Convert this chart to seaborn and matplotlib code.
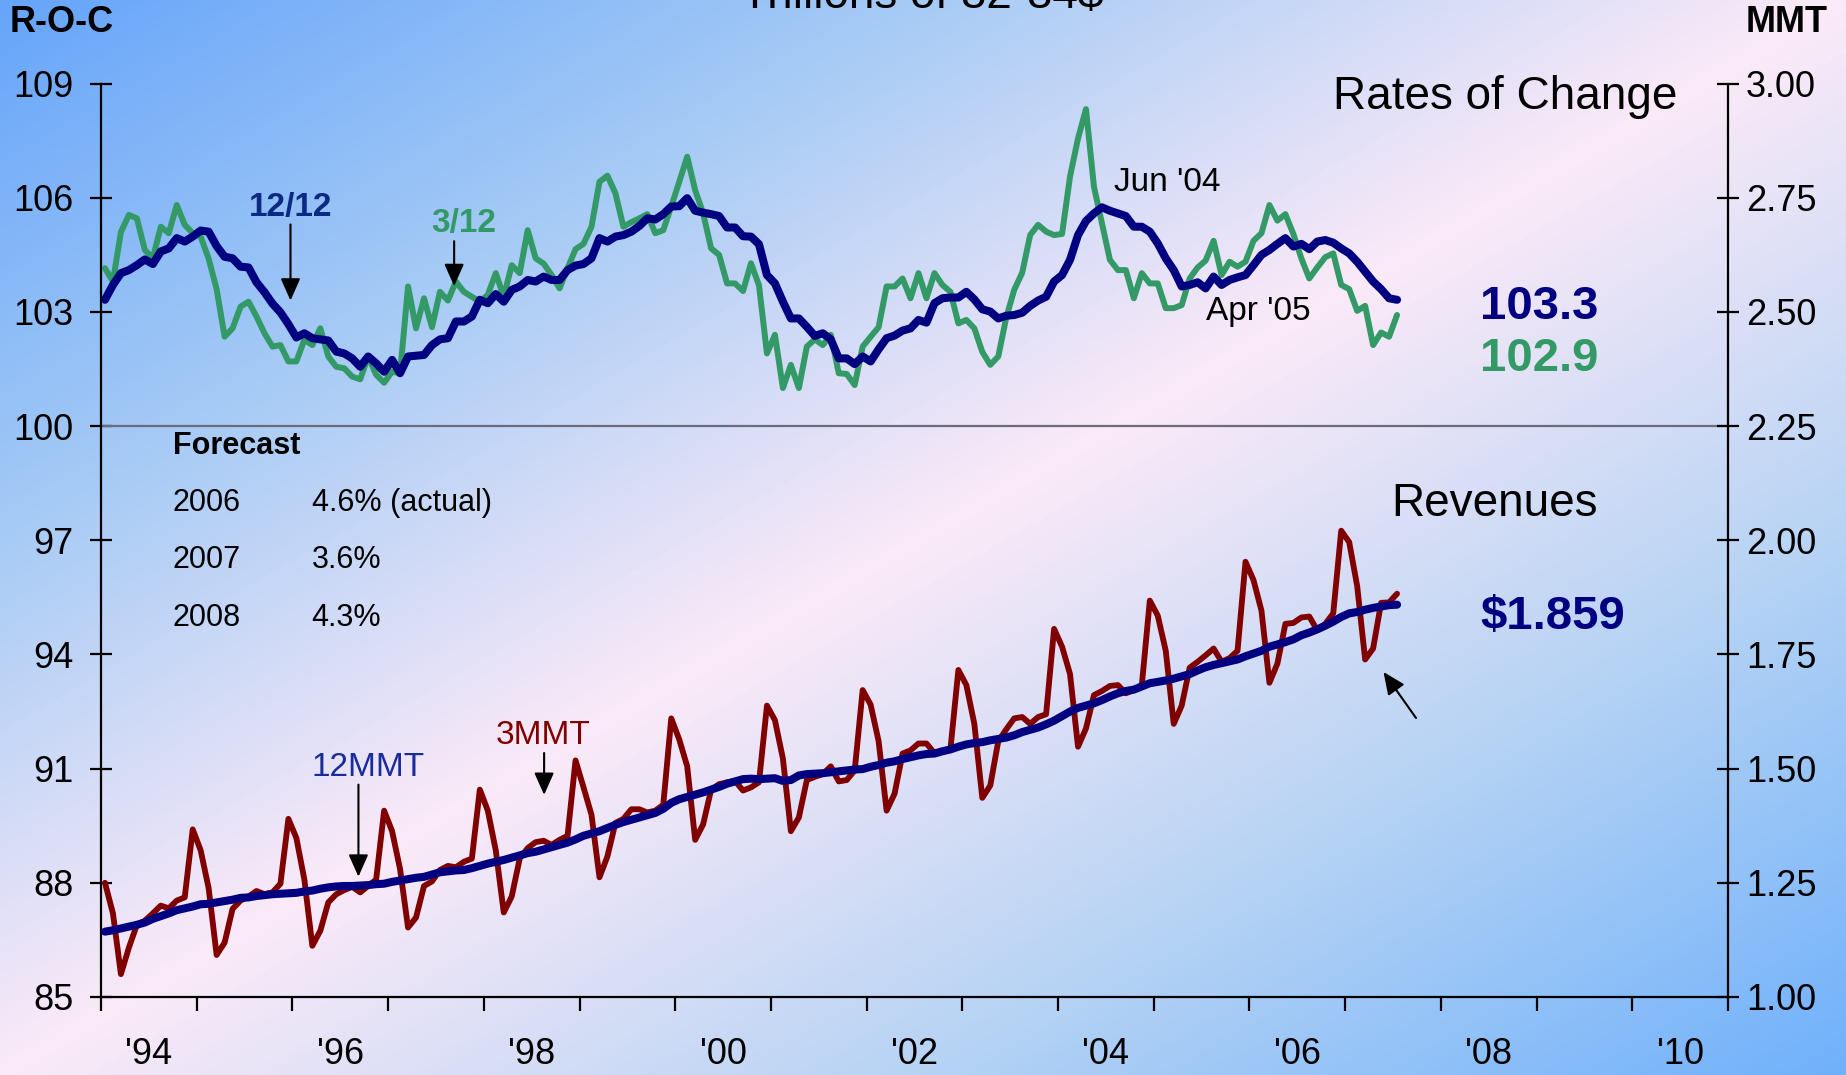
import numpy as np
import pandas as pd
import seaborn as sns
import matplotlib.pyplot as plt
from matplotlib.colors import LinearSegmentedColormap

# monthly data, Jan 1994 .. Jul 2007
months = pd.period_range("1994-01", "2007-07", freq="M")

# rates of change (left axis, R-O-C)
roc_12_12 = [
    103.32, 103.71, 104.02, 104.10, 104.23, 104.38, 104.26, 104.59, 104.67, 104.94, 104.85, 104.98,
    105.14, 105.11, 104.73, 104.45, 104.41, 104.19, 104.17, 103.78, 103.52, 103.22, 102.99, 102.68,
    102.33, 102.44, 102.31, 102.28, 102.25, 101.96, 101.91, 101.78, 101.56, 101.83, 101.65, 101.43,
    101.74, 101.39, 101.83, 101.85, 101.87, 102.13, 102.28, 102.31, 102.75, 102.75, 102.88, 103.32,
    103.23, 103.47, 103.27, 103.58, 103.67, 103.84, 103.80, 103.93, 103.84, 103.84, 104.10, 104.22,
    104.26, 104.41, 104.94, 104.85, 104.98, 105.02, 105.11, 105.26, 105.46, 105.43, 105.57, 105.77,
    105.78, 105.99, 105.66, 105.61, 105.57, 105.52, 105.22, 105.22, 104.99, 104.98, 104.78, 103.97,
    103.75, 103.27, 102.83, 102.83, 102.61, 102.37, 102.44, 102.28, 101.78, 101.78, 101.63, 101.83,
    101.70, 102.02, 102.31, 102.38, 102.51, 102.57, 102.79, 102.72, 103.23, 103.36, 103.38, 103.38,
    103.53, 103.33, 103.07, 103.01, 102.83, 102.90, 102.92, 102.98, 103.16, 103.30, 103.40, 103.80,
    103.97, 104.37, 105.02, 105.39, 105.59, 105.75, 105.66, 105.59, 105.52, 105.24, 105.24, 105.11,
    104.80, 104.41, 104.10, 103.67, 103.71, 103.78, 103.62, 103.93, 103.71, 103.84, 103.91, 103.97,
    104.23, 104.50, 104.63, 104.79, 104.94, 104.72, 104.79, 104.65, 104.85, 104.89, 104.82, 104.67,
    104.54, 104.32, 104.06, 103.80, 103.60, 103.36, 103.32,
]
roc_3_12 = [
    104.15, 103.80, 105.10, 105.55, 105.46, 104.63, 104.41, 105.24, 105.07, 105.81, 105.29, 105.07,
    104.98, 104.40, 103.60, 102.35, 102.57, 103.14, 103.27, 102.88, 102.44, 102.09, 102.13, 101.70,
    101.70, 102.27, 102.13, 102.57, 101.83, 101.56, 101.52, 101.30, 101.23, 101.83, 101.35, 101.14,
    101.43, 101.39, 103.67, 102.57, 103.36, 102.60, 103.53, 103.30, 103.80, 103.53, 103.40, 103.27,
    103.45, 104.02, 103.40, 104.23, 104.02, 105.15, 104.41, 104.27, 103.97, 103.62, 104.15, 104.65,
    104.79, 105.24, 106.42, 106.58, 106.12, 105.24, 105.36, 105.46, 105.57, 105.07, 105.15, 105.77,
    106.42, 107.08, 106.20, 105.59, 104.67, 104.50, 103.75, 103.75, 103.55, 104.28, 103.70, 101.91,
    102.40, 101.00, 101.61, 101.00, 102.09, 102.28, 102.13, 102.40, 101.39, 101.37, 101.08, 102.09,
    102.35, 102.60, 103.67, 103.67, 103.88, 103.36, 104.02, 103.36, 104.02, 103.71, 103.53, 102.70,
    102.79, 102.57, 101.95, 101.61, 101.83, 102.85, 103.58, 104.03, 105.02, 105.29, 105.11, 105.02,
    105.05, 106.56, 107.56, 108.33, 106.29, 105.33, 104.37, 104.10, 104.10, 103.36, 104.02, 103.75,
    103.75, 103.10, 103.10, 103.18, 103.88, 104.17, 104.35, 104.87, 103.97, 104.32, 104.19, 104.32,
    104.87, 105.07, 105.81, 105.40, 105.57, 105.05, 104.41, 103.88, 104.17, 104.44, 104.54, 103.71,
    103.60, 103.03, 103.16, 102.13, 102.46, 102.35, 102.92,
]

# revenues, trillions (right axis, MMT)
mmt_12 = [
    1.143, 1.146, 1.150, 1.154, 1.158, 1.163, 1.171, 1.177, 1.183, 1.190, 1.194, 1.198,
    1.203, 1.204, 1.207, 1.210, 1.213, 1.217, 1.218, 1.221, 1.223, 1.225, 1.226, 1.227,
    1.228, 1.231, 1.233, 1.237, 1.240, 1.242, 1.243, 1.243, 1.244, 1.245, 1.247, 1.248,
    1.252, 1.255, 1.258, 1.261, 1.263, 1.268, 1.273, 1.275, 1.277, 1.278, 1.282, 1.287,
    1.292, 1.296, 1.300, 1.305, 1.310, 1.315, 1.318, 1.323, 1.328, 1.333, 1.338, 1.345,
    1.353, 1.358, 1.363, 1.370, 1.377, 1.383, 1.388, 1.393, 1.398, 1.403, 1.412, 1.425,
    1.433, 1.438, 1.443, 1.448, 1.454, 1.460, 1.467, 1.472, 1.477, 1.478, 1.477, 1.478,
    1.479, 1.473, 1.475, 1.485, 1.488, 1.489, 1.490, 1.492, 1.494, 1.496, 1.498, 1.499,
    1.504, 1.508, 1.513, 1.516, 1.521, 1.525, 1.529, 1.532, 1.533, 1.538, 1.542, 1.548,
    1.553, 1.556, 1.558, 1.562, 1.565, 1.568, 1.573, 1.580, 1.585, 1.590, 1.597, 1.605,
    1.615, 1.625, 1.633, 1.638, 1.643, 1.650, 1.658, 1.665, 1.670, 1.673, 1.680, 1.687,
    1.690, 1.693, 1.697, 1.702, 1.707, 1.715, 1.722, 1.727, 1.731, 1.735, 1.739, 1.746,
    1.752, 1.758, 1.767, 1.772, 1.777, 1.783, 1.792, 1.798, 1.805, 1.813, 1.822, 1.832,
    1.840, 1.843, 1.848, 1.852, 1.855, 1.858, 1.859,
]
mmt_3 = [
    1.250, 1.183, 1.050, 1.108, 1.158, 1.167, 1.183, 1.200, 1.194, 1.211, 1.218, 1.367,
    1.321, 1.238, 1.092, 1.119, 1.193, 1.211, 1.220, 1.232, 1.225, 1.229, 1.248, 1.390,
    1.348, 1.257, 1.112, 1.145, 1.207, 1.225, 1.234, 1.241, 1.229, 1.243, 1.257, 1.408,
    1.363, 1.280, 1.152, 1.174, 1.243, 1.253, 1.278, 1.287, 1.284, 1.296, 1.303, 1.454,
    1.408, 1.321, 1.185, 1.220, 1.303, 1.326, 1.339, 1.342, 1.333, 1.344, 1.353, 1.518,
    1.459, 1.399, 1.262, 1.308, 1.381, 1.390, 1.411, 1.411, 1.404, 1.408, 1.421, 1.610,
    1.564, 1.505, 1.344, 1.378, 1.454, 1.466, 1.470, 1.473, 1.452, 1.459, 1.470, 1.638,
    1.606, 1.522, 1.363, 1.393, 1.475, 1.482, 1.488, 1.505, 1.472, 1.475, 1.496, 1.672,
    1.640, 1.560, 1.408, 1.445, 1.533, 1.540, 1.555, 1.555, 1.534, 1.537, 1.542, 1.716,
    1.683, 1.598, 1.436, 1.463, 1.560, 1.586, 1.610, 1.613, 1.598, 1.613, 1.619, 1.806,
    1.767, 1.707, 1.548, 1.588, 1.661, 1.670, 1.681, 1.683, 1.665, 1.672, 1.683, 1.868,
    1.835, 1.758, 1.598, 1.638, 1.721, 1.734, 1.748, 1.763, 1.734, 1.742, 1.758, 1.953,
    1.913, 1.846, 1.688, 1.730, 1.817, 1.819, 1.831, 1.833, 1.803, 1.817, 1.840, 2.021,
    1.996, 1.900, 1.739, 1.763, 1.863, 1.864, 1.883,
]

year_ticks = list(range(1994, 2012))
year_labels = ["'94", "'96", "'98", "'00", "'02", "'04", "'06", "'08", "'10"]
roc_ticks = [85, 88, 91, 94, 97, 100, 103, 106, 109]
mmt_ticks = [1.00, 1.25, 1.50, 1.75, 2.00, 2.25, 2.50, 2.75, 3.00]

forecast_years = ["2006", "2007", "2008"]
forecast_rates = ["4.6% (actual)", "3.6%", "4.3%"]

NAVY = "#000080"
GREEN = "#339966"
RED = "#800000"

df = pd.DataFrame({
    "t": months.year + (months.month - 0.5) / 12,
    "r12": roc_12_12,
    "r3": roc_3_12,
    "m12": mmt_12,
    "m3": mmt_3,
})

sns.set_style("ticks")
plt.rcParams["font.family"] = ["Liberation Sans", "DejaVu Sans"]
plt.rcParams["text.color"] = "black"
plt.rcParams["xtick.color"] = "black"
plt.rcParams["ytick.color"] = "black"
plt.rcParams["axes.edgecolor"] = "black"

fig = plt.figure(figsize=(18.46, 10.75), dpi=100)

# gradient backdrop: blue corners, pale pink diagonal band
bg = fig.add_axes([0, 0, 1, 1], zorder=-5)
gx, gy = np.meshgrid(np.linspace(0, 1, 400), np.linspace(0, 1, 300))
s = (gx + gy) / 2
cmap = LinearSegmentedColormap.from_list(
    "bg", ["#66a5fa", "#a6cbf5", "#fbeaf8", "#b6d3f4", "#70b1fb"])
bg.imshow(s, cmap=cmap, aspect="auto", extent=[0, 1, 0, 1], origin="upper")
bg.axis("off")

ax = fig.add_axes([0.0547, 0.0726, 0.8814, 0.8496])
ax.set_facecolor("none")
ax2 = ax.twinx()

sns.lineplot(data=df, x="t", y="r3", ax=ax, color=GREEN, linewidth=4.3)
sns.lineplot(data=df, x="t", y="r12", ax=ax, color=NAVY, linewidth=5.8)
sns.lineplot(data=df, x="t", y="m3", ax=ax2, color=RED, linewidth=4.2)
sns.lineplot(data=df, x="t", y="m12", ax=ax2, color=NAVY, linewidth=5.8)

ax.axhline(100, color="#6b6b7b", lw=1.6, zorder=1)

ax.set_xlim(1994, 2011)
ax.set_ylim(85, 109)
ax2.set_ylim(1, 3)
ax.set_xlabel("")
ax.set_ylabel("")
ax2.set_ylabel("")

ax.set_yticks(roc_ticks)
ax.set_yticklabels([str(v) for v in roc_ticks])
ax2.set_yticks(mmt_ticks)
ax2.set_yticklabels([f"{v:.2f}" for v in mmt_ticks])

ax.set_xticks(year_ticks)
ax.set_xticklabels([])
ax.set_xticks([y + 0.5 for y in range(1994, 2011, 2)], minor=True)
ax.set_xticklabels(year_labels, minor=True)

ax.tick_params(axis="y", direction="inout", length=16, width=1.6, pad=12,
               labelsize=26, colors="black")
ax2.tick_params(axis="y", direction="inout", length=16, width=1.6, pad=5,
                labelsize=26, colors="black")
ax.tick_params(axis="x", which="major", direction="out", length=10, width=1.6)
ax.tick_params(axis="x", which="minor", length=0, pad=29, labelsize=26,
               labelcolor="black")

for a in (ax, ax2):
    a.spines["top"].set_visible(False)
    for sp in a.spines.values():
        sp.set_linewidth(1.6)
        sp.set_color("black")
ax.spines["right"].set_visible(False)
ax2.spines["left"].set_visible(False)
ax2.spines["bottom"].set_visible(False)

# axis captions and title
fig.text(10 / 1846, 1 - 22 / 1075, "R-O-C", fontsize=26, fontweight="bold", va="center")
fig.text(1828 / 1846, 1 - 22 / 1075, "MMT", fontsize=26, fontweight="bold",
         va="center", ha="right")
fig.text(922 / 1846, 1 - 8 / 1075, "Trillions of 82-84$", fontsize=33,
         ha="center", va="baseline")

# panel titles and latest values
ax.text(2010.47, 108.65, "Rates of Change", fontsize=33, ha="right", va="center")
ax.text(2008.56, 97.95, "Revenues", fontsize=33, ha="center", va="center")
ax.text(2009.03, 103.13, "103.3", fontsize=34, fontweight="bold", color=NAVY,
        ha="center", va="center")
ax.text(2009.03, 101.77, "102.9", fontsize=34, fontweight="bold", color=GREEN,
        ha="center", va="center")
ax.text(2009.17, 94.99, "$1.859", fontsize=34, fontweight="bold", color=NAVY,
        ha="center", va="center")

# series labels with arrows
arrow = dict(arrowstyle="-|>,head_length=0.9,head_width=0.4", color="black",
             lw=1.5, shrinkA=0, shrinkB=0, mutation_scale=15)
ax.text(1995.98, 105.75, "12/12", fontsize=24, fontweight="bold", color="#0c2a84",
        ha="center", va="center")
ax.annotate("", xy=(1995.98, 103.3), xytext=(1995.98, 105.3), arrowprops=arrow)
ax.text(1997.79, 105.32, "3/12", fontsize=24, fontweight="bold", color=GREEN,
        ha="center", va="center")
ax.annotate("", xy=(1997.69, 103.68), xytext=(1997.69, 104.86), arrowprops=arrow)

ax.text(2004.58, 106.4, "Jun '04", fontsize=24, ha="left", va="center")
ax.text(2005.55, 103.0, "Apr '05", fontsize=24, ha="left", va="center")

ax.text(1996.79, 91.02, "12MMT", fontsize=24, color="#1a2c9c",
        ha="center", va="center")
ax.annotate("", xy=(1996.69, 88.16), xytext=(1996.69, 90.58), arrowprops=arrow)
ax.text(1998.62, 91.86, "3MMT", fontsize=24, color=RED, ha="center", va="center")
ax.annotate("", xy=(1998.63, 90.31), xytext=(1998.63, 91.41), arrowprops=arrow)
ax.annotate("", xy=(2007.40, 93.54), xytext=(2007.74, 92.33), arrowprops=arrow)

# forecast block
ax.text(1994.75, 99.48, "Forecast", fontsize=22, fontweight="bold", va="center")
for k, (yr, rate) in enumerate(zip(forecast_years, forecast_rates)):
    yv = 97.98 - k * 1.51
    ax.text(1994.75, yv, yr, fontsize=22, va="center")
    ax.text(1996.20, yv, rate, fontsize=22, va="center")

fig.savefig("out.png", dpi=100)
